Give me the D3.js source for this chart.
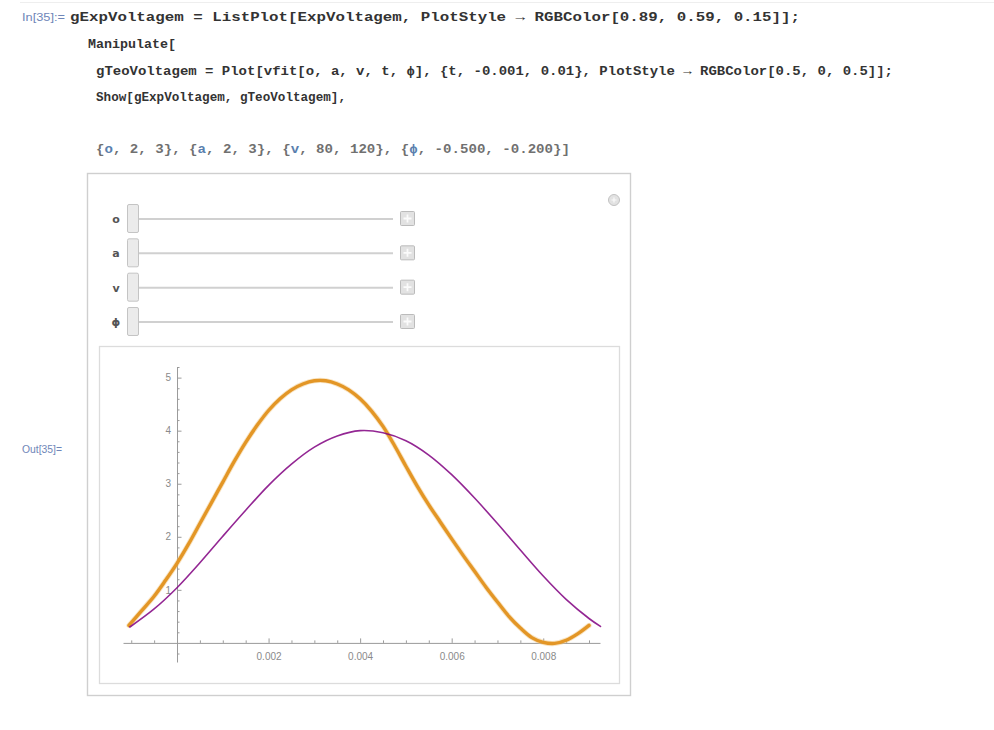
<!DOCTYPE html>
<html>
<head>
<meta charset="utf-8">
<script src="https://cdn.jsdelivr.net/npm/d3@7"></script>
<style>
  body { margin: 0; background: #fff; }
  svg { display: block; }
</style>
</head>
<body>
<svg id="nb" width="994" height="730"></svg>
<script>
// Measured voltage samples: time (s) and voltage (V)
const expTime = [-0.00105, -0.0008, -0.0005, -0.00025, 0, 0.00025, 0.0005, 0.00075, 0.001, 0.00125,
  0.0015, 0.00175, 0.002, 0.00225, 0.0025, 0.00275, 0.003, 0.00325, 0.0035, 0.00375,
  0.004, 0.00425, 0.0045, 0.00475, 0.005, 0.00525, 0.0055, 0.00575, 0.006, 0.00625,
  0.0065, 0.00675, 0.007, 0.00725, 0.0075, 0.00775, 0.008, 0.00825, 0.0085, 0.00875, 0.009];
const expVolt = [0.33, 0.58, 0.88, 1.18, 1.5, 1.86, 2.25, 2.64, 3.03, 3.42,
  3.78, 4.1, 4.38, 4.6, 4.77, 4.88, 4.94, 4.94, 4.88, 4.77,
  4.6, 4.37, 4.08, 3.72, 3.33, 2.95, 2.6, 2.28, 1.96, 1.65,
  1.35, 1.05, 0.77, 0.5, 0.28, 0.1, 0.01, -0.01, 0.05, 0.17, 0.33];

// Fitted curve vfit with the sliders at o = 2, a = 2, v = 80, ϕ = -0.5
const teoTime = [-0.00103, -0.0005, 0, 0.0005, 0.001, 0.0015, 0.002, 0.0025, 0.003, 0.0035,
  0.004, 0.0045, 0.005, 0.0055, 0.006, 0.0065, 0.007, 0.0075, 0.008, 0.0085, 0.009, 0.00925];
const teoVolt = [0.30, 0.64, 1.04, 1.51, 2.01, 2.50, 2.97, 3.37, 3.69, 3.90,
  4.00, 3.96, 3.81, 3.54, 3.17, 2.73, 2.25, 1.75, 1.26, 0.82, 0.46, 0.31];

const xMajorTicks = [0.002, 0.004, 0.006, 0.008];
const xTickLabels = ["0.002", "0.004", "0.006", "0.008"];
const xMinorTicks = [-0.001, -0.0005, 0.0005, 0.001, 0.0015, 0.0025, 0.003, 0.0035, 0.0045, 0.005,
  0.0055, 0.0065, 0.007, 0.0075, 0.0085, 0.009];
const yMajorTicks = [1, 2, 3, 4, 5];
const yTickLabels = ["1", "2", "3", "4", "5"];
const yMinorTicks = [-0.2, 0.2, 0.4, 0.6, 0.8, 1.2, 1.4, 1.6, 1.8, 2.2, 2.4, 2.6, 2.8,
  3.2, 3.4, 3.6, 3.8, 4.2, 4.4, 4.6, 4.8, 5.2];

const sliderNames = ["o", "a", "v", "ϕ"];

// Notebook input lines (each line is a list of [text, colour] runs; w = rendered width)
const dark = "#333333", varc = "#5a7fae", grey = "#707070";
const codeLines = [
  { x: 70, y: 21, w: 730, runs: [["gExpVoltagem = ListPlot[ExpVoltagem, PlotStyle → RGBColor[0.89, 0.59, 0.15]];", dark]] },
  { x: 88, y: 48, w: 88, runs: [["Manipulate[", dark]] },
  { x: 96, y: 75, w: 797, runs: [["gTeoVoltagem = Plot[vfit[o, a, v, t, ϕ], {t, -0.001, 0.01}, PlotStyle → RGBColor[0.5, 0, 0.5]];", dark]] },
  { x: 96, y: 101, w: 250, runs: [["Show[gExpVoltagem, gTeoVoltagem],", dark]] },
  { x: 96, y: 153, w: 474, runs: [["{", grey], ["o", varc], [", 2, 3}, {", grey], ["a", varc], [", 2, 3}, {", grey],
                          ["v", varc], [", 80, 120}, {", grey], ["ϕ", varc], [", -0.500, -0.200}]", grey]] }
];

const svg = d3.select("#nb");

// faint cell separator at the very top
svg.append("line").attr("x1", 20).attr("x2", 994).attr("y1", 2.5).attr("y2", 2.5)
  .attr("stroke", "#eeeeee");

// In / Out labels
svg.append("text").attr("x", 22).attr("y", 21).text("In[35]:=")
  .attr("font-family", "Liberation Sans, Arial, sans-serif").attr("font-size", 10)
  .attr("textLength", 43).attr("lengthAdjust", "spacingAndGlyphs")
  .attr("fill", "#6f86b8");
svg.append("text").attr("x", 22).attr("y", 453).text("Out[35]=")
  .attr("font-family", "Liberation Sans, Arial, sans-serif").attr("font-size", 10)
  .attr("textLength", 40).attr("lengthAdjust", "spacingAndGlyphs")
  .attr("fill", "#6f86b8");

// code lines
codeLines.forEach(line => {
  const t = svg.append("text").attr("x", line.x).attr("y", line.y)
    .attr("font-family", "Liberation Mono, DejaVu Sans Mono, monospace")
    .attr("font-weight", "bold").attr("font-size", 13)
    .attr("textLength", line.w).attr("lengthAdjust", "spacingAndGlyphs")
    .attr("xml:space", "preserve").style("white-space", "pre");
  line.runs.forEach(r => t.append("tspan").attr("fill", r[1]).text(r[0]));
});

// Manipulate panel
svg.append("rect").attr("x", 87.5).attr("y", 173.5).attr("width", 543).attr("height", 522)
  .attr("fill", "#ffffff").attr("stroke", "#cfcfcf").attr("stroke-width", 1.4);

// option button in the corner
const gear = svg.append("g").attr("transform", "translate(614,200)");
gear.append("circle").attr("r", 5.5).attr("fill", "#e2e2e2").attr("stroke", "#c2c2c2");
gear.append("path").attr("d", "M-2.5,0H2.5M0,-2.5V2.5").attr("stroke", "#fafafa").attr("stroke-width", 1.2);

// slider rows
const rowY = d3.scalePoint().domain(sliderNames).range([219, 322]);
const rows = svg.selectAll("g.slider").data(sliderNames).join("g")
  .attr("class", "slider").attr("transform", d => `translate(0,${rowY(d)})`);
rows.append("text").attr("x", 116).attr("y", 4).attr("text-anchor", "middle")
  .attr("font-family", "DejaVu Sans, sans-serif").attr("font-size", 11).attr("font-weight", "bold")
  .attr("fill", "#555").text(d => d);
rows.append("line").attr("x1", 138).attr("x2", 393).attr("y1", 0).attr("y2", 0)
  .attr("stroke", "#d0d0d0").attr("stroke-width", 2);
rows.append("rect").attr("x", 127.5).attr("y", -14.5).attr("width", 11).attr("height", 28).attr("rx", 1.5)
  .attr("fill", "#ebebeb").attr("stroke", "#c4c4c4");
rows.append("rect").attr("x", 400.5).attr("y", -7.5).attr("width", 14).attr("height", 14).attr("rx", 1)
  .attr("fill", "#e2e2e2").attr("stroke", "#bbbbbb");
rows.append("path").attr("d", "M403.5,-0.5H411.5M407.5,-4.5V3.5").attr("stroke", "#fbfbfb").attr("stroke-width", 1.8);

// plot frame
svg.append("rect").attr("x", 99.5).attr("y", 346.5).attr("width", 520).attr("height", 337)
  .attr("fill", "#ffffff").attr("stroke", "#dcdcdc").attr("stroke-width", 1.3);

// scales
const x = d3.scaleLinear().domain([-0.00118, 0.00924]).range([123, 600]);
const y = d3.scaleLinear().domain([-0.36, 5.2]).range([662, 367]);

const axisColor = "#9a9a9a";
const tickFont = "Liberation Sans, Arial, sans-serif";

// x axis: minor ticks, then major ticks with labels
const gxMinor = svg.append("g").attr("transform", `translate(0,${y(0)})`)
  .call(d3.axisBottom(x).tickValues(xMinorTicks).tickSize(-2.5).tickSizeOuter(0).tickFormat(""));
const gx = svg.append("g").attr("transform", `translate(0,${y(0)})`)
  .call(d3.axisBottom(x).tickValues(xMajorTicks).tickSize(-4.5).tickSizeOuter(0).tickPadding(10)
    .tickFormat((d, i) => xTickLabels[i]));

// y axis
const gyMinor = svg.append("g").attr("transform", `translate(${x(0)},0)`)
  .call(d3.axisLeft(y).tickValues(yMinorTicks).tickSize(-2.5).tickSizeOuter(0).tickFormat(""));
const gy = svg.append("g").attr("transform", `translate(${x(0)},0)`)
  .call(d3.axisLeft(y).tickValues(yMajorTicks).tickSize(-4.5).tickSizeOuter(0).tickPadding(6)
    .tickFormat((d, i) => yTickLabels[i]));

[gxMinor, gx, gyMinor, gy].forEach(g => {
  g.selectAll("path.domain").attr("stroke", axisColor).attr("stroke-width", 1);
  g.selectAll(".tick line").attr("stroke", axisColor);
  g.selectAll(".tick text").attr("fill", "#8a8a8a").attr("font-family", tickFont).attr("font-size", 10);
});
gxMinor.select("path.domain").remove();
gyMinor.select("path.domain").remove();

// series
const expData = expTime.map((t, i) => [t, expVolt[i]]);
const teoData = teoTime.map((t, i) => [t, teoVolt[i]]);
const line = d3.line().x(d => x(d[0])).y(d => y(d[1])).curve(d3.curveCatmullRom.alpha(0.5));

svg.append("path").datum(expData).attr("d", line).attr("fill", "none")
  .attr("stroke", "#f0c37a").attr("stroke-width", 5.2).attr("stroke-opacity", 0.45)
  .attr("stroke-linecap", "round").attr("stroke-linejoin", "round");
svg.append("path").datum(expData).attr("d", line).attr("fill", "none")
  .attr("stroke", "rgb(227,150,38)").attr("stroke-width", 3.4)
  .attr("stroke-linecap", "round").attr("stroke-linejoin", "round");

svg.append("path").datum(teoData).attr("d", line).attr("fill", "none")
  .attr("stroke", "rgb(128,0,128)").attr("stroke-width", 1.6).attr("stroke-opacity", 0.85)
  .attr("stroke-linecap", "round");
</script>
</body>
</html>
